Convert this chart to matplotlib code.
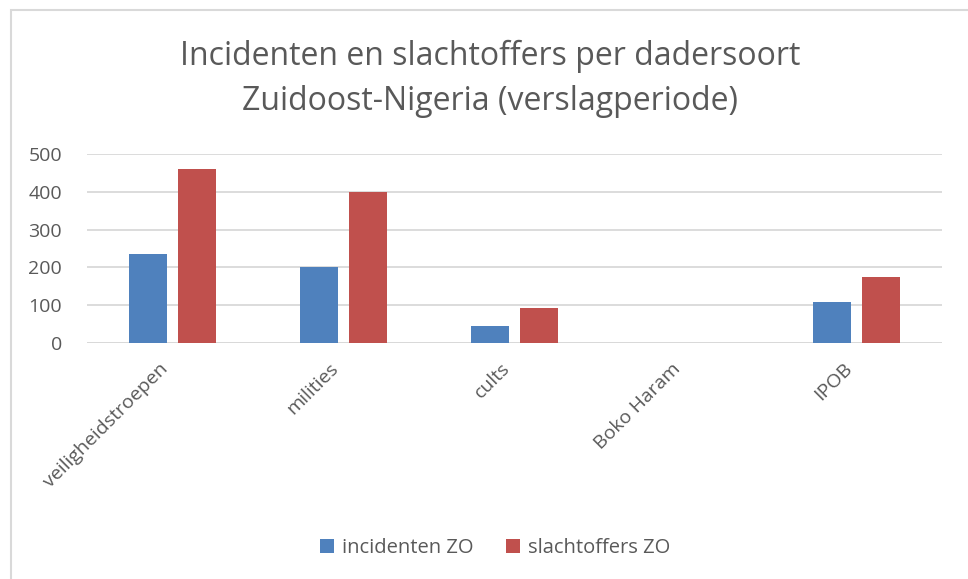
import matplotlib.pyplot as plt
import matplotlib.transforms as mtransforms
import numpy as np
from matplotlib.patches import Rectangle

# Data
categories = ['veiligheidstroepen', 'milities', 'cults', 'Boko Haram', 'IPOB']
incidenten = [235, 201, 45, 0, 108]
slachtoffers = [460, 399, 92, 0, 175]
yticks = [0, 100, 200, 300, 400, 500]

blue = '#4F81BD'
red = '#C0504D'
grey_text = '#595959'

plt.rcParams['font.family'] = ['Open Sans', 'DejaVu Sans']

W, H = 968, 579
fig = plt.figure(figsize=(W / 100, H / 100), dpi=100)

# chart border (only left/top visible in the reference)
fig.patches.append(Rectangle((11 / W, -0.1), 1.2, 1 - 10 / H + 0.1,
                             transform=fig.transFigure, fill=False,
                             edgecolor='#D9D9D9', linewidth=1.5))

ax = fig.add_axes([87 / W, 1 - 343 / H, (942 - 87) / W, (343 - 154) / H])

x = np.arange(len(categories))
w = 0.222
off = 0.143
ax.bar(x - off, incidenten, w, color=blue, label='incidenten ZO', zorder=3)
ax.bar(x + off, slachtoffers, w, color=red, label='slachtoffers ZO', zorder=3)

ax.set_xlim(-0.5, len(categories) - 0.5)
ax.set_ylim(0, 500)
ax.set_yticks(yticks)
ax.set_yticklabels([str(t) for t in yticks])
ax.yaxis.grid(True, color='#D9D9D9', linewidth=1.3, zorder=0)
for s in ax.spines.values():
    s.set_visible(False)
ax.axhline(0, color='#D9D9D9', linewidth=1.3, zorder=2)

ax.tick_params(axis='y', length=0, labelsize=14, labelcolor=grey_text, pad=18)
ax.tick_params(axis='x', length=0, labelsize=14, labelcolor=grey_text, pad=12)
ax.set_xticks(x)
ax.set_xticklabels(categories, rotation=45, ha='right', rotation_mode='anchor')
shift = mtransforms.ScaledTranslation(-14 / 100, 0, fig.dpi_scale_trans)
for lbl in ax.get_xticklabels():
    lbl.set_transform(lbl.get_transform() + shift)

fig.text(490 / W, 1 - 56 / H, 'Incidenten en slachtoffers per dadersoort',
         ha='center', va='center', fontsize=23, color=grey_text)
fig.text(490 / W, 1 - 101 / H, 'Zuidoost-Nigeria (verslagperiode)',
         ha='center', va='center', fontsize=23, color=grey_text)

fig.legend(loc='center', bbox_to_anchor=(495 / W, 1 - 548 / H), ncol=2,
           frameon=False, fontsize=14.5, labelcolor=grey_text,
           handlelength=0.7, handleheight=0.7, columnspacing=1.6, handletextpad=0.4)

fig.savefig('out.png', dpi=100)
